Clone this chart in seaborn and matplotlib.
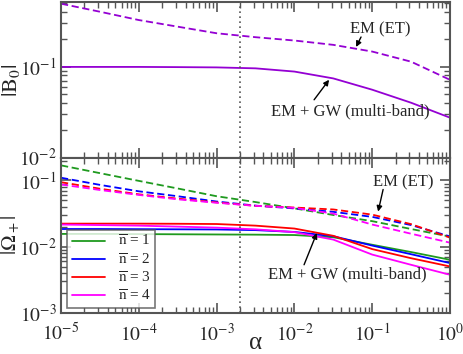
import numpy as np
import pandas as pd
import matplotlib
matplotlib.use("Agg")
import matplotlib.pyplot as plt
import seaborn as sns

# α grid (log10 from -5 to 0 in half decades)
alpha = [1e-5, 3.16e-5, 1e-4, 3.16e-4, 1e-3, 3.16e-3, 1e-2, 3.16e-2, 1e-1, 3.16e-1, 1.0]

# |B0| panel
b0_em = [0.49, 0.40, 0.324, 0.274, 0.232, 0.210, 0.193, 0.173, 0.146, 0.113, 0.0714]
b0_emgw = [0.099, 0.099, 0.099, 0.0985, 0.0978, 0.0955, 0.088, 0.0740, 0.0556, 0.040, 0.0274]

# |Omega+| panel, dashed = EM (ET), solid = EM + GW
om_em = {
    1: [0.169, 0.129, 0.0986, 0.0757, 0.0578, 0.0472, 0.0379, 0.0301, 0.0243, 0.0185, 0.0142],
    2: [0.110, 0.0858, 0.0686, 0.0578, 0.0481, 0.0417, 0.0378, 0.0336, 0.0282, 0.0212, 0.0143],
    3: [0.0942, 0.0751, 0.0618, 0.0532, 0.0466, 0.0414, 0.0390, 0.0365, 0.0305, 0.0219, 0.0137],
    4: [0.0869, 0.0718, 0.0605, 0.0519, 0.0461, 0.0414, 0.0386, 0.0316, 0.0216, 0.0157, 0.0115],
}
om_emgw = {
    1: [0.0156, 0.0156, 0.0155, 0.0154, 0.0153, 0.0152, 0.0150, 0.0139, 0.0107, 0.0083, 0.00635],
    2: [0.0185, 0.0185, 0.0184, 0.0183, 0.0182, 0.0178, 0.0167, 0.0144, 0.0104, 0.0077, 0.00566],
    3: [0.0223, 0.0223, 0.0223, 0.0222, 0.0220, 0.0208, 0.0188, 0.0146, 0.0092, 0.0067, 0.00503],
    4: [0.0216, 0.0212, 0.0208, 0.0201, 0.0194, 0.0183, 0.0166, 0.0128, 0.0076, 0.00533, 0.00377],
}
colors = {1: "#1f9a1f", 2: "#0000ff", 3: "#ff0000", 4: "#ff00ff"}
purple = "#9400d3"
alpha_ref = 2e-3

sns.set_theme(style="ticks")
plt.rcParams["font.family"] = ["Liberation Serif", "DejaVu Serif"]
plt.rcParams["mathtext.fontset"] = "stix"

fig = plt.figure(figsize=(4.63, 3.54), dpi=100)
gs = fig.add_gridspec(2, 1, left=0.1318, right=0.972, top=0.994, bottom=0.116, hspace=0)
ax1 = fig.add_subplot(gs[0])
ax2 = fig.add_subplot(gs[1], sharex=ax1)

lw = 1.3
dash = (4, 2)

sns.lineplot(x=alpha, y=b0_em, ax=ax1, color=purple, lw=lw, linestyle=(0, dash))
sns.lineplot(x=alpha, y=b0_emgw, ax=ax1, color=purple, lw=lw)

for n in [1, 2, 3, 4]:
    sns.lineplot(x=alpha, y=om_em[n], ax=ax2, color=colors[n], lw=lw, linestyle=(0, dash))
for n in [1, 2, 3, 4]:
    sns.lineplot(x=alpha, y=om_emgw[n], ax=ax2, color=colors[n], lw=lw,
                 label=r"$\overline{\mathrm{n}}$ = %d" % n)

spine_c = "#555555"
fmt = matplotlib.ticker.FuncFormatter(lambda v, p: r"$10^{%d}$" % round(np.log10(v)))
for ax in (ax1, ax2):
    ax.set_xscale("log")
    ax.set_yscale("log")
    ax.set_xlim(1e-5, 1)
    ax.axvline(alpha_ref, color="#555555", ls=(0, (1, 2)), lw=1.2)
    for s in ax.spines.values():
        s.set_color(spine_c)
        s.set_linewidth(1.5)
    ax.tick_params(which="both", direction="in", top=True, right=True, color=spine_c)
    ax.tick_params(which="major", length=7, width=1.2, labelsize=14)
    ax.tick_params(which="minor", length=4, width=1.0)
    ax.yaxis.set_major_formatter(fmt)

ax1.set_ylim(0.01, 0.51)
ax2.set_ylim(1e-3, 0.222)
ax1.tick_params(labelbottom=False)
ax1.set_yticks([1e-2, 1e-1])
ax2.set_yticks([1e-3, 1e-2, 1e-1])
ax2.set_xticks([1e-5, 1e-4, 1e-3, 1e-2, 1e-1, 1])
ax2.xaxis.set_major_formatter(fmt)
ax2.tick_params(axis="x", which="major", pad=7)
ax2.tick_params(axis="y", which="major", pad=3)
ax1.tick_params(axis="y", which="major", pad=3)

ax1.set_xlabel("")
ax1.set_ylabel(r"$|\mathrm{B}_0|$", fontsize=16)
ax2.set_ylabel(r"$|\Omega_+|$", fontsize=15)
ax2.set_xlabel("α", fontsize=18, labelpad=-9)
ax1.yaxis.set_label_coords(-0.100, 0.5)
ax2.yaxis.set_label_coords(-0.101, 0.5)

arr = dict(arrowstyle="-|>", color="black", lw=1.0, mutation_scale=8, shrinkA=0, shrinkB=0)
ax1.annotate("", xy=(0.062, 0.164), xytext=(0.0718, 0.211), arrowprops=arr)
ax1.text(0.126, 0.259, "EM (ET)", ha="center", va="center", fontsize=12)
ax1.annotate("", xy=(0.0279, 0.0715), xytext=(0.0179, 0.0431), arrowprops=arr)
ax1.text(0.0519, 0.0319, "EM + GW (multi-band)", ha="center", va="center", fontsize=12)

ax2.annotate("", xy=(0.119, 0.0339), xytext=(0.138, 0.0731), arrowprops=arr)
ax2.text(0.249, 0.0933, "EM (ET)", ha="center", va="center", fontsize=12)
ax2.annotate("", xy=(0.0194, 0.0161), xytext=(0.0133, 0.00534), arrowprops=arr)
ax2.text(0.0474, 0.00377, "EM + GW (multi-band)", ha="center", va="center", fontsize=12)

leg = ax2.legend(loc="lower left", bbox_to_anchor=(0.0, -0.01), fontsize=11, frameon=True,
                 fancybox=False, handlelength=2.2, handletextpad=0.8, borderpad=0.3,
                 labelspacing=0.2, borderaxespad=0.4)
leg.get_frame().set_edgecolor("#555555")
leg.get_frame().set_linewidth(1.2)

fig.savefig("out.png", dpi=100)
